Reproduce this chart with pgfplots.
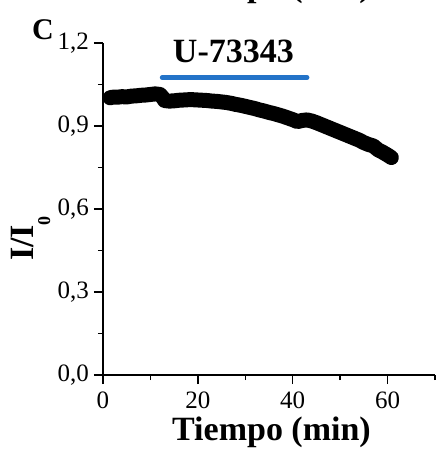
\documentclass[border=0pt]{standalone}
\usepackage{fontspec}
\setmainfont{Liberation Serif}
\usepackage{pgfplots}
\pgfplotsset{compat=1.18}
\definecolor{barblue}{RGB}{35,115,200}
\begin{document}
\begin{tikzpicture}
\useasboundingbox (-103pt,-80pt) rectangle (334pt,375pt);
\begin{axis}[
  at={(0,0)}, anchor=south west,
  width=332pt, height=332pt, scale only axis,
  xmin=0, xmax=70, ymin=0, ymax=1.2,
  axis lines=left,
  axis line style={-, line width=1.6pt},
  every tick/.style={black, line width=1.4pt},
  tick align=outside,
  major tick length=9pt, minor tick length=5pt,
  xtick={0,20,40,60}, minor xtick={10,30,50,70},
  ytick={0,0.3,0.6,0.9,1.2}, minor ytick={0.15,0.45,0.75,1.05},
  /pgf/number format/assume math mode=true,
  /pgf/number format/use comma,
  tick label style={font=\fontsize{25}{29}\selectfont},
  yticklabel style={/pgf/number format/fixed, /pgf/number format/precision=1, /pgf/number format/fixed zerofill, anchor=east, inner sep=0pt, xshift=-5pt},
  xticklabel style={anchor=base, inner sep=0pt, yshift=-24pt},
  xlabel={\bfseries Tiempo (min)},
  xlabel style={at={(axis description cs:0.5075,-0.1958)}, anchor=base, inner sep=0pt, font=\fontsize{34}{40}\selectfont},
  clip=false,
]
\addplot[black, line width=15pt, line cap=round, line join=round] table {
x y
1.5 1.002
2 1.004
3 1.004
4 1.006
5 1.005
6 1.008
7 1.009
8 1.011
9 1.012
10 1.014
11 1.016
12 1.014
12.5 1.005
13 0.992
14 0.990
15 0.991
16 0.993
17 0.994
18 0.995
19 0.995
20 0.994
21 0.993
22 0.992
23 0.990
24 0.989
25 0.987
26 0.985
27 0.982
28 0.978
29 0.975
30 0.971
31 0.967
32 0.963
33 0.958
34 0.954
35 0.949
36 0.945
37 0.940
38 0.935
39 0.929
40 0.923
41 0.916
42 0.920
43 0.922
44 0.918
45 0.912
46 0.905
47 0.898
48 0.891
49 0.884
50 0.877
51 0.870
52 0.863
53 0.856
54 0.849
55 0.840
56 0.833
57 0.828
58 0.814
59 0.805
60 0.795
60.8 0.786
};
\addplot[barblue, line width=5pt, line cap=round] coordinates {(12.5,1.075) (43,1.075)};
\node[anchor=base, inner sep=0pt, font=\fontsize{34}{40}\selectfont\bfseries] at (axis cs:27.5,1.128) {U-73343};
\node[anchor=base west, inner sep=0pt, font=\fontsize{30}{36}\selectfont\bfseries] at (axis description cs:-0.2139,1.012) {C};
\node[anchor=base, inner sep=0pt, font=\fontsize{34}{40}\selectfont\bfseries] at (axis description cs:0.5075,1.14) {Tiempo (min)};
\node[anchor=base, rotate=90, inner sep=0pt, font=\fontsize{34}{40}\selectfont\bfseries] at (axis description cs:-0.2108,0.4111) {I/I\raisebox{-17pt}{\fontsize{18}{20}\selectfont 0}};
\end{axis}
\end{tikzpicture}
\end{document}
